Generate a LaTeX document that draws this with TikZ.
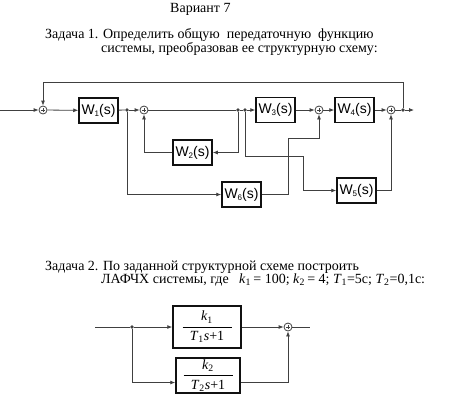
\documentclass[tikz,border=0pt]{standalone}
\usepackage{fontspec}
\setmainfont{Liberation Serif}
\setsansfont{Liberation Sans}
\usepackage{amsmath}
\usepackage{xcolor}
\definecolor{cLine}{HTML}{404040}
\definecolor{cBox}{HTML}{111111}
\usepackage{tikz}
\usetikzlibrary{positioning,arrows.meta}
\tikzset{
  node-box/.style={draw=cBox,line width=1.5pt,minimum width=39pt,
    minimum height=25pt,inner sep=0pt,align=center,
    font=\sffamily\fontsize{14}{16}\selectfont},
  node-frac/.style={draw=cBox,line width=1.5pt,inner sep=0pt,
    align=center,font=\fontsize{14}{16}\selectfont},
  node-sum/.style={draw=cLine,line width=.8pt,circle,minimum size=8pt,
    inner sep=0pt,path picture={
      \draw[line width=.5pt] ([xshift=-2pt]path picture bounding box.center)
        -- ([xshift=2pt]path picture bounding box.center);
      \draw[line width=.5pt] ([yshift=-2pt]path picture bounding box.center)
        -- ([yshift=2pt]path picture bounding box.center);}},
  node-dot/.style={fill=cLine,circle,minimum size=3.6pt,inner sep=0pt},
  node-text/.style={anchor=base west,inner sep=0pt,
    font=\fontsize{14}{16}\selectfont},
  arrow/.style={-{Latex[length=5pt,width=4pt]},line width=.8pt,draw=cLine},
  wire/.style={line width=.8pt,draw=cLine},
}
\newcommand{\wlabel}[1]{W\raisebox{-2pt}{\fontsize{8}{8}\selectfont#1}(s)}
\newcommand{\tflabel}[3]{$\dfrac{\textit{#1}\textsubscript{#2}}%
  {\makebox[49pt]{\textit{#3}\textsubscript{#2}\textit{s}+1}}$}

\begin{document}
\begin{tikzpicture}[x=1pt,y=-1pt]
  \useasboundingbox (0,0) rectangle (454,405);
  % заголовки
  \node[node-text] (title) at (170,12.7) {Вариант 7};
  \node[node-text] (task1a) at (45,38.7) {Задача 1. Определить общую\ \ передаточную\ \ функцию};
  \node[node-text] (task1b) at (101,52.5) {системы, преобразовав ее структурную схему:};

  % задача 1: основная линия
  \coordinate (in) at (0,110);
  \node[node-sum] (sum1) at (43,110) {};
  \node[node-box] (W1) at (98.5,110.5) {\wlabel{1}};
  \node[node-dot] (dot1) at (127,110) {};
  \node[node-sum] (sum2) at (144,110) {};
  \node[node-dot] (dot2) at (238,110) {};
  \node[node-dot] (dot3) at (245,110) {};
  \node[node-box] (W3) at (275.5,110) {\wlabel{3}};
  \node[node-sum] (sum3) at (319,110) {};
  \node[node-box] (W4) at (354.5,110) {\wlabel{4}};
  \node[node-sum] (sum4) at (391,110) {};
  \node[node-dot] (dotout) at (403,110) {};
  \coordinate (out) at (414,110);
  % нижние звенья
  \node[node-box] (W2) at (192.5,152.5) {\wlabel{2}};
  \node[node-box] (W6) at (241.5,194.5) {\wlabel{6}};
  \node[node-box] (W5) at (356.5,190.5) {\wlabel{5}};
  \coordinate (fbtop) at (403,82);
  \coordinate (w6up) at (288,138);
  \coordinate (w5turn) at (303,156);

  \draw[arrow] (in) -- (sum1);
  \draw[arrow] (sum1) -- (W1);
  \draw[wire] (W1) -- (dot1);
  \draw[arrow] (dot1) -- (sum2);
  \draw[wire] (sum2) -- (dot2) -- (dot3);
  \draw[arrow] (dot3) -- (W3);
  \draw[arrow] (W3) -- (sum3);
  \draw[arrow] (sum3) -- (W4);
  \draw[arrow] (W4) -- (sum4);
  \draw[wire] (sum4) -- (dotout);
  \draw[arrow] (dotout) -- (out);
  \draw[arrow] (dotout) -- (fbtop) -| (sum1);
  \draw[arrow] (dot2) |- (W2);
  \draw[arrow] (W2) -| (sum2);
  \draw[arrow] (dot1) |- (W6);
  \draw[arrow] (W6) -| (w6up) -| (sum3);
  \draw[arrow] (dot3) |- (w5turn) |- (W5);
  \draw[arrow] (W5) -| (sum4);

  % задача 2
  \node[node-text] (task2a) at (45,270.7) {Задача 2. По заданной структурной схеме построить};
  \node[node-text] (task2b) at (101,283.8) {ЛАФЧХ системы, где\ \ \ \textit{k}\textsubscript{1}\,= 100; \textit{k}\textsubscript{2}\,= 4;\ \textit{T}\textsubscript{1}=5с; \textit{T}\textsubscript{2}=0,1с:};

  \coordinate (in2) at (95,327);
  \node[node-dot] (dotb) at (132,327) {};
  \node[node-frac,minimum width=68pt,minimum height=42pt] (K1) at (207,327) {\tflabel{k}{1}{T}};
  \node[node-frac,minimum width=64pt,minimum height=35pt] (K2) at (208,375.5) {\tflabel{k}{2}{T}};
  \node[node-sum] (sumb) at (288,327) {};
  \coordinate (out2) at (310,327);

  \draw[wire] (in2) -- (dotb);
  \draw[arrow] (dotb) -- (K1);
  \draw[arrow] (dotb) |- ([yshift=-7pt]K2.west);
  \draw[arrow] (K1) -- (sumb);
  \draw[arrow] ([yshift=-7pt]K2.east) -| (sumb);
  \draw[wire] (sumb) -- (out2);
\end{tikzpicture}
\end{document}
